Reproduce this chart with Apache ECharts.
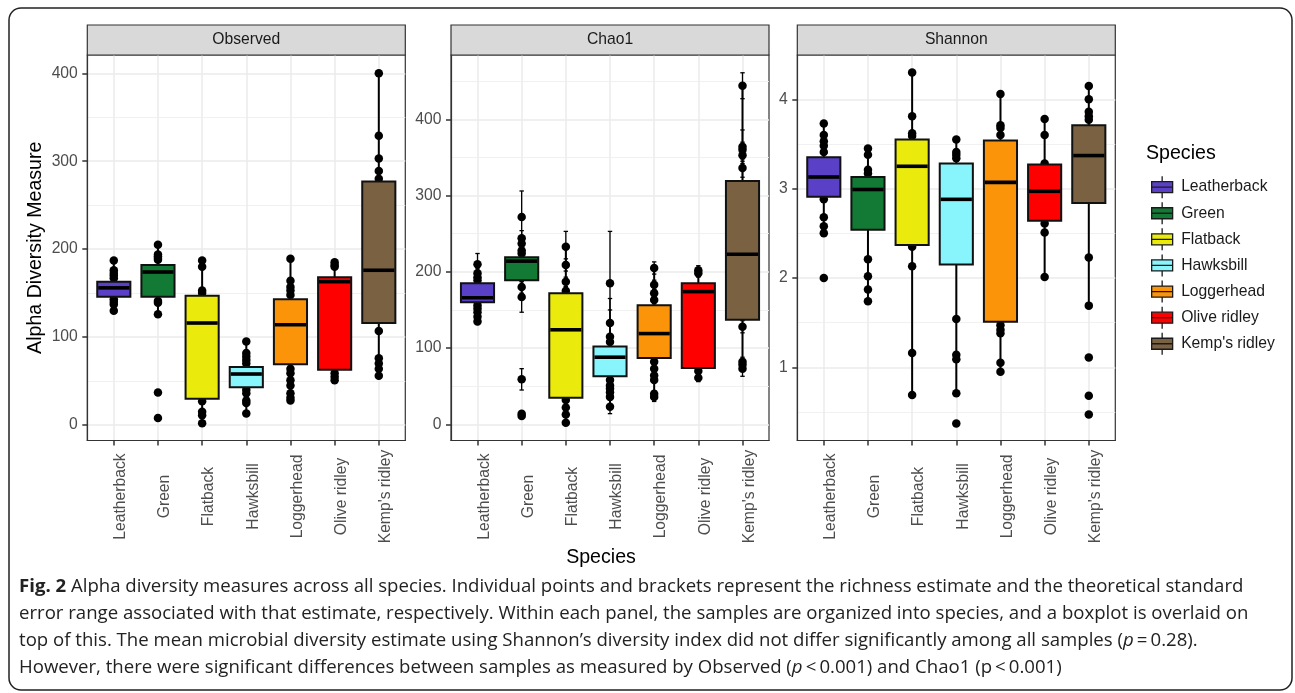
<!DOCTYPE html>
<html><head><meta charset="utf-8">
<script src="https://cdn.jsdelivr.net/npm/echarts@6/dist/echarts.min.js"></script>
<style>html,body{margin:0;padding:0;background:#fff}#c{width:1295px;height:693px}</style>
</head><body><div id="c"></div>
<script>
// ---------- data ----------
const species = ['Leatherback', 'Green', 'Flatback', 'Hawksbill', 'Loggerhead', 'Olive ridley', "Kemp's ridley"];
const colors = ['#5A40C6', '#137A36', '#EAEA0C', '#88F4FB', '#FC940A', '#FE0000', '#7A6142'];
const panelNames = ['Observed', 'Chao1', 'Shannon'];

const yMajorTicks = [[0, 100, 200, 300, 400], [0, 100, 200, 300, 400], [1, 2, 3, 4]];
const yMinorTicks = [[50, 150, 250, 350], [50, 150, 250, 350, 450], [0.5, 1.5, 2.5, 3.5]];
const yMin = [-17.6, -21.2, 0.18];
const yMax = [420.8, 484.3, 4.496];

// boxes: [lower whisker, q1, median, q3, upper whisker]
const observedBoxes = [
  [130, 146, 156, 163, 187],
  [126, 146, 174, 182, 205],
  [2, 30, 116, 147, 187],
  [13, 43, 58, 66, 95],
  [28, 69, 114, 143, 189],
  [51, 63, 163, 168, 185],
  [56, 116, 176, 277, 400]
];
const chao1Boxes = [
  [135, 160, 166, 185, 210],
  [167, 189, 214, 219, 244],
  [2, 35, 124, 172, 233],
  [23, 63, 88, 102, 133],
  [36, 87, 119, 156, 205],
  [61, 74, 174, 185, 202],
  [73, 137, 223, 319, 444]
];
const shannonBoxes = [
  [2.50, 2.91, 3.13, 3.35, 3.73],
  [1.74, 2.54, 2.99, 3.13, 3.45],
  [0.69, 2.37, 3.25, 3.55, 4.30],
  [0.71, 2.15, 2.88, 3.28, 3.55],
  [0.95, 1.51, 3.07, 3.54, 4.06],
  [2.01, 2.64, 2.97, 3.27, 3.78],
  [1.69, 2.84, 3.37, 3.71, 4.15]
];

// visible sample estimates
const observedPoints = [
  [187, 176, 173, 170, 167, 143, 140, 137, 130],
  [205, 194, 192, 190, 188, 141, 139, 126, 37, 8],
  [187, 180, 153, 150, 27, 15, 11, 2],
  [95, 82, 78, 74, 70, 40, 36, 28, 25, 13],
  [189, 164, 157, 153, 148, 64, 59, 51, 45, 36, 31, 28],
  [185, 182, 180, 59, 55, 51],
  [400, 329, 303, 289, 280, 107, 76, 70, 64, 56]
];
const chao1Points = [
  [210, 198, 193, 189, 156, 152, 147, 141, 135],
  [272, 244, 237, 228, 224, 180, 167, 59, 14, 11],
  [233, 209, 187, 175, 32, 22, 13, 2],
  [185, 133, 115, 108, 58, 51, 47, 42, 36, 23],
  [205, 183, 172, 163, 82, 73, 64, 58, 40, 36],
  [202, 198, 70, 61],
  [444, 364, 360, 353, 336, 128, 82, 78, 73]
];
const chao1SE = [
  [14, 6, 5, 5, 4, 4, 3, 3, 4],
  [34, 10, 8, 8, 6, 8, 20, 14, 2, 2],
  [20, 8, 6, 5, 3, 2, 2, 0.5],
  [68, 32, 35, 6, 4, 4, 3, 3, 3, 9],
  [8, 6, 5, 5, 4, 4, 3, 3, 4, 6],
  [6, 5, 4, 5],
  [17, 22, 10, 8, 12, 8, 6, 5, 10]
];
const shannonPoints = [
  [3.73, 3.60, 3.53, 3.48, 3.41, 2.88, 2.68, 2.58, 2.50, 2.00],
  [3.45, 3.38, 3.21, 3.17, 2.21, 2.02, 1.87, 1.74],
  [4.30, 3.81, 3.62, 3.59, 2.35, 2.13, 1.16, 0.69],
  [3.55, 3.41, 3.38, 3.34, 1.54, 1.14, 1.09, 0.71, 0.37],
  [4.06, 3.71, 3.68, 3.60, 1.47, 1.42, 1.38, 1.05, 0.95],
  [3.78, 3.60, 3.28, 2.61, 2.51, 2.01],
  [4.15, 4.00, 3.86, 3.81, 3.77, 2.23, 1.69, 1.11, 0.68, 0.47]
];

// ---------- styling / layout ----------
const FONT = '"Liberation Sans", Arial, sans-serif';
const CAP_FONT = '"Open Sans", "Noto Sans", sans-serif';
const gridLeft = [87.3, 451, 797.3];
const GRID_TOP = 55, GRID_H = 385.5, GRID_W = 318;
const BOX_W = 0.75, CAP_W = 0.1;
const catTicks = species.map((_, i) => i);

const allBoxes = [observedBoxes, chao1Boxes, shannonBoxes];
const allPoints = [observedPoints, chao1Points, shannonPoints];

const grids = [], xAxes = [], yAxes = [], series = [];
const axisLineStyle = {show: true, onZero: false, lineStyle: {color: '#333333', width: 1.2}};
const tickStyle = {color: '#333333', width: 1.5};
for (let p = 0; p < 3; p++) {
  grids.push({left: gridLeft[p], top: GRID_TOP, width: GRID_W, height: GRID_H, show: true,
    backgroundColor: '#ffffff', borderColor: '#333333', borderWidth: 1.2});
  xAxes.push({type: 'value', gridIndex: p, min: -0.6, max: 6.6, position: 'bottom',
    axisLine: axisLineStyle,
    axisTick: {show: true, inside: false, customValues: catTicks, length: 5, lineStyle: tickStyle},
    axisLabel: {show: true, customValues: catTicks, rotate: 90, align: 'center', verticalAlign: 'top',
      lineHeight: 14, margin: 56, fontSize: 15.7, color: '#4D4D4D', fontFamily: FONT,
      formatter: v => species[Math.round(v)]},
    splitLine: {show: true, lineStyle: {color: '#EBEBEB', width: 1.5}}
  });
  yAxes.push({type: 'value', gridIndex: p, min: yMin[p], max: yMax[p], position: 'left',
    axisLine: axisLineStyle,
    axisTick: {show: true, inside: false, customValues: yMajorTicks[p], length: 5, lineStyle: tickStyle},
    axisLabel: {show: true, customValues: yMajorTicks[p], margin: 9.5, fontSize: 15.7, color: '#4D4D4D', fontFamily: FONT},
    splitLine: {show: true, lineStyle: {color: '#EBEBEB', width: 1.5}},
    name: p === 0 ? 'Alpha Diversity Measure' : '', nameLocation: 'middle', nameGap: 42,
    nameTextStyle: {fontSize: 19.6, color: '#000000', fontFamily: FONT}
  });
}
// minor gridline axes
for (let p = 0; p < 3; p++) {
  yAxes.push({type: 'value', gridIndex: p, min: yMin[p], max: yMax[p], position: 'right',
    axisLine: {show: false, onZero: false},
    axisTick: {show: false, customValues: yMinorTicks[p]},
    axisLabel: {show: false, customValues: yMinorTicks[p]},
    splitLine: {show: true, lineStyle: {color: '#EFEFEF', width: 0.9}}
  });
}

function renderBox(params, api) {
  const x = api.value(0);
  const pLo = api.coord([x, api.value(1)]);
  const pQ1 = api.coord([x, api.value(2)]);
  const pMed = api.coord([x, api.value(3)]);
  const pQ3 = api.coord([x, api.value(4)]);
  const pHi = api.coord([x, api.value(5)]);
  const half = api.size([BOX_W, 0])[0] / 2;
  const color = api.visual('color');
  return {type: 'group', children: [
    {type: 'line', shape: {x1: pHi[0], y1: pHi[1], x2: pQ3[0], y2: pQ3[1]}, style: {stroke: '#000', lineWidth: 2}},
    {type: 'line', shape: {x1: pQ1[0], y1: pQ1[1], x2: pLo[0], y2: pLo[1]}, style: {stroke: '#000', lineWidth: 2}},
    {type: 'rect', shape: {x: pQ3[0] - half, y: pQ3[1], width: 2 * half, height: pQ1[1] - pQ3[1]},
      style: {fill: color, stroke: '#111', lineWidth: 2}},
    {type: 'line', shape: {x1: pMed[0] - half + 1, y1: pMed[1], x2: pMed[0] + half - 1, y2: pMed[1]},
      style: {stroke: '#000', lineWidth: 3.6}}
  ]};
}
function renderErr(params, api) {
  const x = api.value(0);
  const lo = api.coord([x, api.value(1)]);
  const hi = api.coord([x, api.value(2)]);
  const hw = api.size([CAP_W, 0])[0] / 2;
  const st = {stroke: '#000', lineWidth: 1.3};
  return {type: 'group', children: [
    {type: 'line', shape: {x1: lo[0], y1: lo[1], x2: hi[0], y2: hi[1]}, style: st},
    {type: 'line', shape: {x1: hi[0] - hw, y1: hi[1], x2: hi[0] + hw, y2: hi[1]}, style: st},
    {type: 'line', shape: {x1: lo[0] - hw, y1: lo[1], x2: lo[0] + hw, y2: lo[1]}, style: st}
  ]};
}

for (let p = 0; p < 3; p++) {
  const pts = [];
  allPoints[p].forEach((arr, s) => arr.forEach(v => pts.push([s, v])));
  if (p === 1) {
    const errs = [];
    chao1Points.forEach((arr, s) => arr.forEach((v, k) => errs.push([s, v - chao1SE[s][k], v + chao1SE[s][k]])));
    series.push({type: 'custom', name: '_err', xAxisIndex: p, yAxisIndex: p, z: 3, silent: true,
      renderItem: renderErr, encode: {x: 0, y: [1, 2]}, data: errs});
  }
  series.push({type: 'scatter', name: '_pts', xAxisIndex: p, yAxisIndex: p, z: 4, silent: true,
    symbol: 'circle', symbolSize: 8.5, itemStyle: {color: '#000000', opacity: 1}, data: pts});
  for (let s = 0; s < species.length; s++) {
    series.push({type: 'custom', name: species[s], xAxisIndex: p, yAxisIndex: p, z: 5, silent: true,
      itemStyle: {color: colors[s]}, renderItem: renderBox, encode: {x: 0, y: [1, 2, 3, 4, 5]},
      data: [[s].concat(allBoxes[p][s])]});
  }
}

const graphics = [
  {type: 'rect', shape: {x: 9, y: 8, width: 1283, height: 682, r: 12}, style: {fill: 'none', stroke: '#222', lineWidth: 1.5}, z: 100}
];
for (let p = 0; p < 3; p++) {
  graphics.push({type: 'rect', shape: {x: gridLeft[p], y: 25, width: GRID_W, height: 30},
    style: {fill: '#D9D9D9', stroke: '#333333', lineWidth: 1.2}, z: 50});
  graphics.push({type: 'text', x: gridLeft[p] + GRID_W / 2, y: 40, z: 51,
    style: {text: panelNames[p], fontSize: 15.7, fontFamily: FONT, fill: '#1A1A1A', align: 'center', verticalAlign: 'middle'}});
}
graphics.push({type: 'text', x: 601, y: 558, z: 51,
  style: {text: 'Species', fontSize: 19.6, fontFamily: FONT, fill: '#000', align: 'center', verticalAlign: 'middle'}});
graphics.push({type: 'text', x: 1146, y: 153.5, z: 51,
  style: {text: 'Species', fontSize: 19.6, fontFamily: FONT, fill: '#000', align: 'left', verticalAlign: 'middle'}});

const CAP_SIZE = 18.6;
const capRich = {
  b: {fontWeight: 'bold', fontSize: CAP_SIZE, fontFamily: CAP_FONT, fill: '#222'},
  i: {fontStyle: 'italic', fontSize: CAP_SIZE, fontFamily: CAP_FONT, fill: '#222'}
};
const captionLines = [
  '{b|Fig. 2} Alpha diversity measures across all species. Individual points and brackets represent the richness estimate and the theoretical standard',
  'error range associated with that estimate, respectively. Within each panel, the samples are organized into species, and a boxplot is overlaid on',
  'top of this. The mean microbial diversity estimate using Shannon\u2019s diversity index did not differ significantly among all samples ({i|p}\u2009=\u20090.28).',
  'However, there were significant differences between samples as measured by Observed ({i|p}\u2009<\u20090.001) and Chao1 (p\u2009<\u20090.001)'
];
const capY = [587, 614, 641, 668];
captionLines.forEach((t, i) => {
  graphics.push({type: 'text', x: 19, y: capY[i], z: 51,
    style: {text: t, rich: capRich, fontSize: CAP_SIZE, fontFamily: CAP_FONT, fill: '#222', align: 'left', verticalAlign: 'middle'}});
});

const chart = echarts.init(document.getElementById('c'), null, {renderer: 'canvas'});
chart.setOption({
  animation: false,
  backgroundColor: '#ffffff',
  grid: grids, xAxis: xAxes, yAxis: yAxes, series: series,
  legend: {orient: 'vertical', left: 1146, top: 170.5, itemWidth: 22, itemHeight: 22, itemGap: 2.8,
    selectedMode: false, data: species,
    icon: 'path://M11,0L11,5.5M0.5,5.5L21.5,5.5L21.5,16.5L0.5,16.5ZM0.5,11L21.5,11M11,16.5L11,22',
    itemStyle: {borderColor: '#1A1A1A', borderWidth: 1.3},
    textStyle: {fontSize: 15.7, color: '#1A1A1A', fontFamily: FONT, padding: [0, 0, 0, 3]}},
  graphic: graphics
});
</script></body></html>
